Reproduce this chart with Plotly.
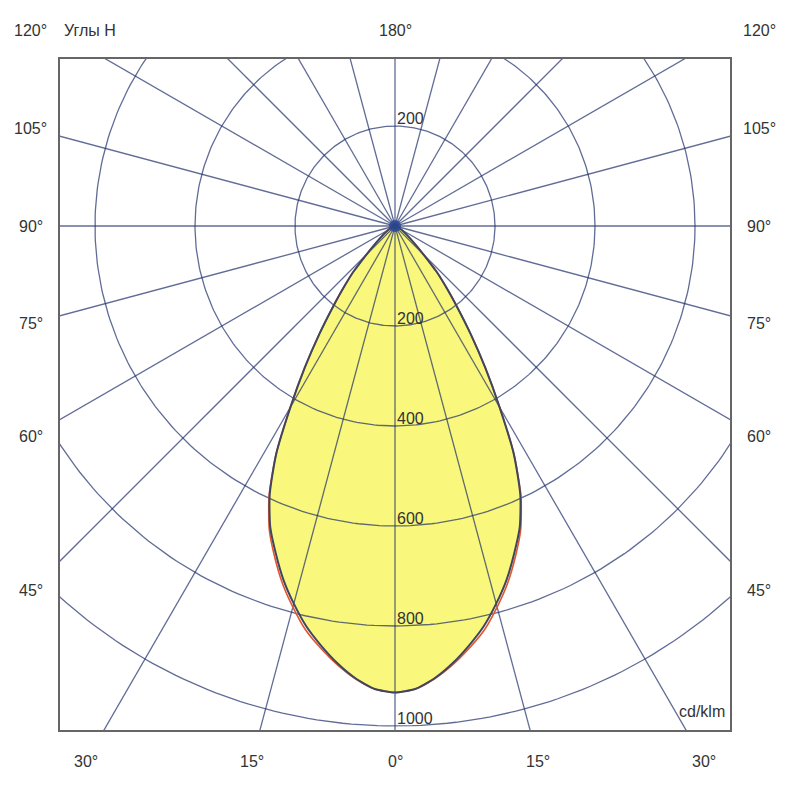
import numpy as np
import plotly.graph_objects as go

# Luminous intensity curve, cd/klm, gamma angle measured from nadir
gamma = [0, 2.5, 5, 7.5, 10, 12.5, 15, 17.5, 20, 22.5, 25, 27.5, 30,
         32.5, 35, 37.5, 40, 42.5, 45, 50, 60, 70, 80, 90]
i_plane_a = [933, 927, 908, 882, 852, 820, 782, 742, 697, 652, 593, 515, 418,
             336, 264, 204, 158, 120, 0, 0, 0, 0, 0, 0]
i_plane_b = [933, 927, 909, 885, 857, 827, 789, 749, 704, 657, 596, 516, 419,
             336, 264, 204, 158, 120, 0, 0, 0, 0, 0, 0]

ring_values = [200, 400, 600, 800, 1000]
spoke_angles = [0, 15, 30, 45, 60, 75, 90, 105, 120, 135, 150, 165,
                180, 195, 210, 225, 240, 255, 270, 285, 300, 315, 330, 345]
side_ticks = [45, 60, 75, 90, 105, 120]
bottom_ticks = [0, 15, 30]

GRID = 'rgba(30,45,105,0.7)'
FONT = dict(family='Liberation Sans, Arial', size=16, color='#333333')
XR = [-670, 670]
YR = [-1008, 334]


def to_xy(angles, values):
    a = np.radians(np.asarray(angles, dtype=float))
    v = np.asarray(values, dtype=float)
    return v * np.sin(a), -v * np.cos(a)


def closed_curve(values):
    # left half mirrored, from 90 down to 0, then right half 0 -> 90
    xr, yr = to_xy(gamma, values)
    x = np.concatenate([-xr[::-1], xr[1:]])
    y = np.concatenate([yr[::-1], yr[1:]])
    keep = [0]
    for k in range(1, len(x)):
        if abs(x[k] - x[keep[-1]]) > 1e-9 or abs(y[k] - y[keep[-1]]) > 1e-9:
            keep.append(k)
    return x[keep], y[keep]


fig = go.Figure()

xa, ya = closed_curve(i_plane_a)
xb, yb = closed_curve(i_plane_b)

# yellow fill
fig.add_trace(go.Scatter(x=xa, y=ya, mode='lines', fill='toself',
                         fillcolor='#F9F77C',
                         line=dict(width=0, shape='spline', smoothing=0.6),
                         hoverinfo='skip', showlegend=False))

# polar grid: rings
t = np.linspace(0, 2 * np.pi, 361)
gx, gy = [], []
for r in ring_values:
    gx += list(r * np.cos(t)) + [None]
    gy += list(r * np.sin(t)) + [None]
# spokes
for ang in spoke_angles:
    sx, sy = to_xy([ang], [1600])
    gx += [0, sx[0], None]
    gy += [0, sy[0], None]
fig.add_trace(go.Scatter(x=gx, y=gy, mode='lines',
                         line=dict(color=GRID, width=1.3),
                         hoverinfo='skip', showlegend=False))

# the two planes
fig.add_trace(go.Scatter(x=xb, y=yb, mode='lines',
                         line=dict(color='#E2562F', width=1.6,
                                   shape='spline', smoothing=0.6),
                         showlegend=False))
fig.add_trace(go.Scatter(x=xa, y=ya, mode='lines',
                         line=dict(color='#3E4660', width=2,
                                   shape='spline', smoothing=0.6),
                         showlegend=False))

# centre point
fig.add_trace(go.Scatter(x=[0], y=[0], mode='markers',
                         marker=dict(size=12, color='rgba(40,70,150,0.8)',
                                     line=dict(width=0)),
                         showlegend=False))

ann = []
# ring values along the vertical axis
for r in [ring_values[0]]:
    ann.append(dict(x=0, y=r, text=str(r), xanchor='left', yanchor='bottom',
                    yshift=-3, xref='x', yref='y'))
for r in ring_values:
    ann.append(dict(x=0, y=-r, text=str(r), xanchor='left', yanchor='bottom',
                    yshift=-3, xref='x', yref='y'))
ann.append(dict(x=664, y=-992, text='cd/klm', xanchor='right',
                yanchor='bottom', xref='x', yref='y'))


def outside(x, y, text, xanchor='center'):
    # labels outside the frame, positioned in paper units
    return dict(x=(x - XR[0]) / (XR[1] - XR[0]),
                y=(y - YR[0]) / (YR[1] - YR[0]),
                xref='paper', yref='paper', text=text, xanchor=xanchor)


# angle labels around the frame
SIDE = 728
TOP = 392
BOTTOM = -1070
for a in side_ticks:
    ar = np.radians(a)
    y = min(-SIDE * np.cos(ar) / np.sin(ar), TOP)
    ann.append(outside(-SIDE, y, f'{a}°'))
    ann.append(outside(SIDE, y, f'{a}°'))
for a in bottom_ticks:
    x = -BOTTOM * np.tan(np.radians(a))
    ann.append(outside(x, BOTTOM, f'{a}°'))
    if a:
        ann.append(outside(-x, BOTTOM, f'{a}°'))
ann.append(outside(0, TOP, '180°'))
ann.append(outside(-666, TOP, 'Углы H', xanchor='left'))

for a in ann:
    a.setdefault('yanchor', 'middle')
    a.update(showarrow=False, font=FONT)

# page body adds an 8px offset, margins compensate for it
fig.update_layout(
    width=782, height=782,
    margin=dict(l=52, r=60, t=51, b=60),
    paper_bgcolor='white', plot_bgcolor='white',
    annotations=ann,
    xaxis=dict(range=XR, showgrid=False, zeroline=False,
               showticklabels=False, ticks='', showline=True, mirror=True,
               linecolor='#666666', linewidth=1.5, fixedrange=True),
    yaxis=dict(range=YR, showgrid=False, zeroline=False,
               showticklabels=False, ticks='', showline=True, mirror=True,
               linecolor='#666666', linewidth=1.5, fixedrange=True),
)

fig.write_html('out.html')
